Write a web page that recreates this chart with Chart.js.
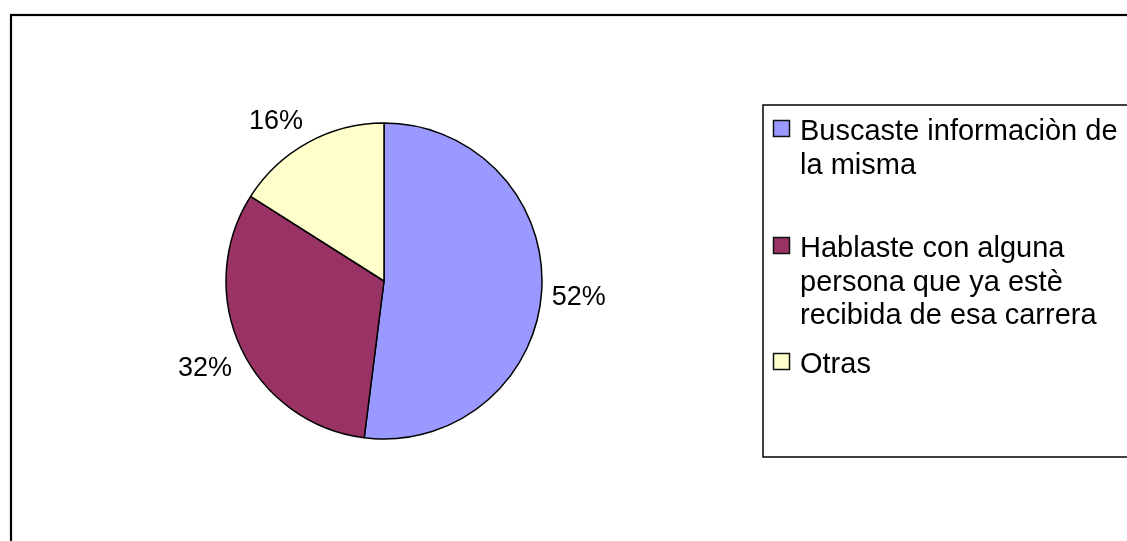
<!DOCTYPE html>
<html>
<head>
<meta charset="utf-8">
<script src="https://cdn.jsdelivr.net/npm/chart.js@4.4.1/dist/chart.umd.min.js"></script>
<style>
  html, body { margin: 0; padding: 0; background: #fff; }
  canvas { display: block; }
</style>
</head>
<body>
<canvas id="pie-chart" width="1127" height="541"></canvas>
<script>
'use strict';

const categories = [
  'Buscaste informaciòn de la misma',
  'Hablaste con alguna persona que ya estè recibida de esa carrera',
  'Otras'
];
const percentages = [52, 32, 16];
const sliceColors = ['#9999FF', '#993366', '#FFFFCC'];

const FONT = '"Liberation Sans", Arial, sans-serif';

// white background and the heavy frame round the chart
const framePlugin = {
  id: 'frame',
  beforeDraw(chart) {
    const ctx = chart.ctx;
    ctx.save();
    ctx.fillStyle = '#fff';
    ctx.fillRect(0, 0, chart.width, chart.height);
    ctx.strokeStyle = '#000';
    ctx.lineWidth = 2.2;
    ctx.strokeRect(11, 15, chart.width + 20, chart.height + 20);
    ctx.restore();
  }
};

// percent labels just outside each slice
const outsideLabels = {
  id: 'outsideLabels',
  afterDatasetsDraw(chart, args, opts) {
    const ctx = chart.ctx;
    const meta = chart.getDatasetMeta(0);
    const clamp = v => Math.max(-1, Math.min(1, v * 4));
    ctx.save();
    ctx.font = opts.fontSize + 'px ' + FONT;
    ctx.fillStyle = '#000';
    ctx.textAlign = 'center';
    ctx.textBaseline = 'alphabetic';
    meta.data.forEach((arc, i) => {
      const mid = (arc.startAngle + arc.endAngle) / 2;
      const dx = Math.cos(mid);
      const dy = Math.sin(mid);
      const r = arc.outerRadius + opts.gap;
      const px = arc.x + dx * r;
      const py = arc.y + dy * r;
      const text = chart.data.datasets[0].data[i] + '%';
      const w = ctx.measureText(text).width;
      const h = opts.fontSize + 1;
      const cx = px + clamp(dx) * w / 2;
      const cy = py + clamp(dy) * h / 2;
      ctx.fillText(text, cx, cy + opts.fontSize * 0.358);
    });
    ctx.restore();
  }
};

function wrapText(ctx, text, maxWidth) {
  const words = text.split(' ');
  const lines = [];
  let line = '';
  words.forEach(word => {
    const test = line ? line + ' ' + word : word;
    if (line && ctx.measureText(test).width > maxWidth) {
      lines.push(line);
      line = word;
    } else {
      line = test;
    }
  });
  if (line) lines.push(line);
  return lines;
}

// boxed legend on the right, with wrapped entries
const boxLegend = {
  id: 'boxLegend',
  afterDraw(chart, args, opts) {
    const ctx = chart.ctx;
    const colors = chart.data.datasets[0].backgroundColor;
    const s = opts.markerSize;
    ctx.save();
    ctx.strokeStyle = '#000';
    ctx.lineWidth = 1.5;
    ctx.strokeRect(opts.left, opts.top, opts.width, opts.height);

    ctx.font = opts.fontSize + 'px ' + FONT;
    ctx.textAlign = 'left';
    ctx.textBaseline = 'alphabetic';
    chart.data.labels.forEach((label, i) => {
      const baseY = opts.rowBaselines[i];
      const top = baseY - 19.5;
      ctx.fillStyle = colors[i];
      ctx.fillRect(opts.markerX, top, s, s);
      ctx.lineWidth = 1.5;
      ctx.strokeStyle = '#111';
      ctx.strokeRect(opts.markerX, top, s, s);

      ctx.fillStyle = '#000';
      wrapText(ctx, label, opts.maxTextWidth).forEach((line, j) => {
        ctx.fillText(line, opts.textX, baseY + j * opts.lineHeight);
      });
    });
    ctx.restore();
  }
};

const chartCtx = document.getElementById('pie-chart').getContext('2d');

new Chart(chartCtx, {
  type: 'pie',
  data: {
    labels: categories,
    datasets: [{
      data: percentages,
      backgroundColor: sliceColors,
      borderColor: '#000',
      borderWidth: 1.5,
      radius: 158
    }]
  },
  options: {
    responsive: false,
    animation: false,
    events: [],
    layout: { padding: { left: 20, right: 379, top: 40, bottom: 19 } },
    plugins: {
      legend: { display: false },
      tooltip: { enabled: false },
      outsideLabels: { fontSize: 27, gap: 10 },
      boxLegend: {
        left: 763, top: 105, width: 420, height: 352,
        fontSize: 29, lineHeight: 33.5,
        markerX: 773.5, markerSize: 16, textX: 800,
        maxTextWidth: 330,
        rowBaselines: [140, 257, 373]
      }
    }
  },
  plugins: [framePlugin, outsideLabels, boxLegend]
});
</script>
</body>
</html>
